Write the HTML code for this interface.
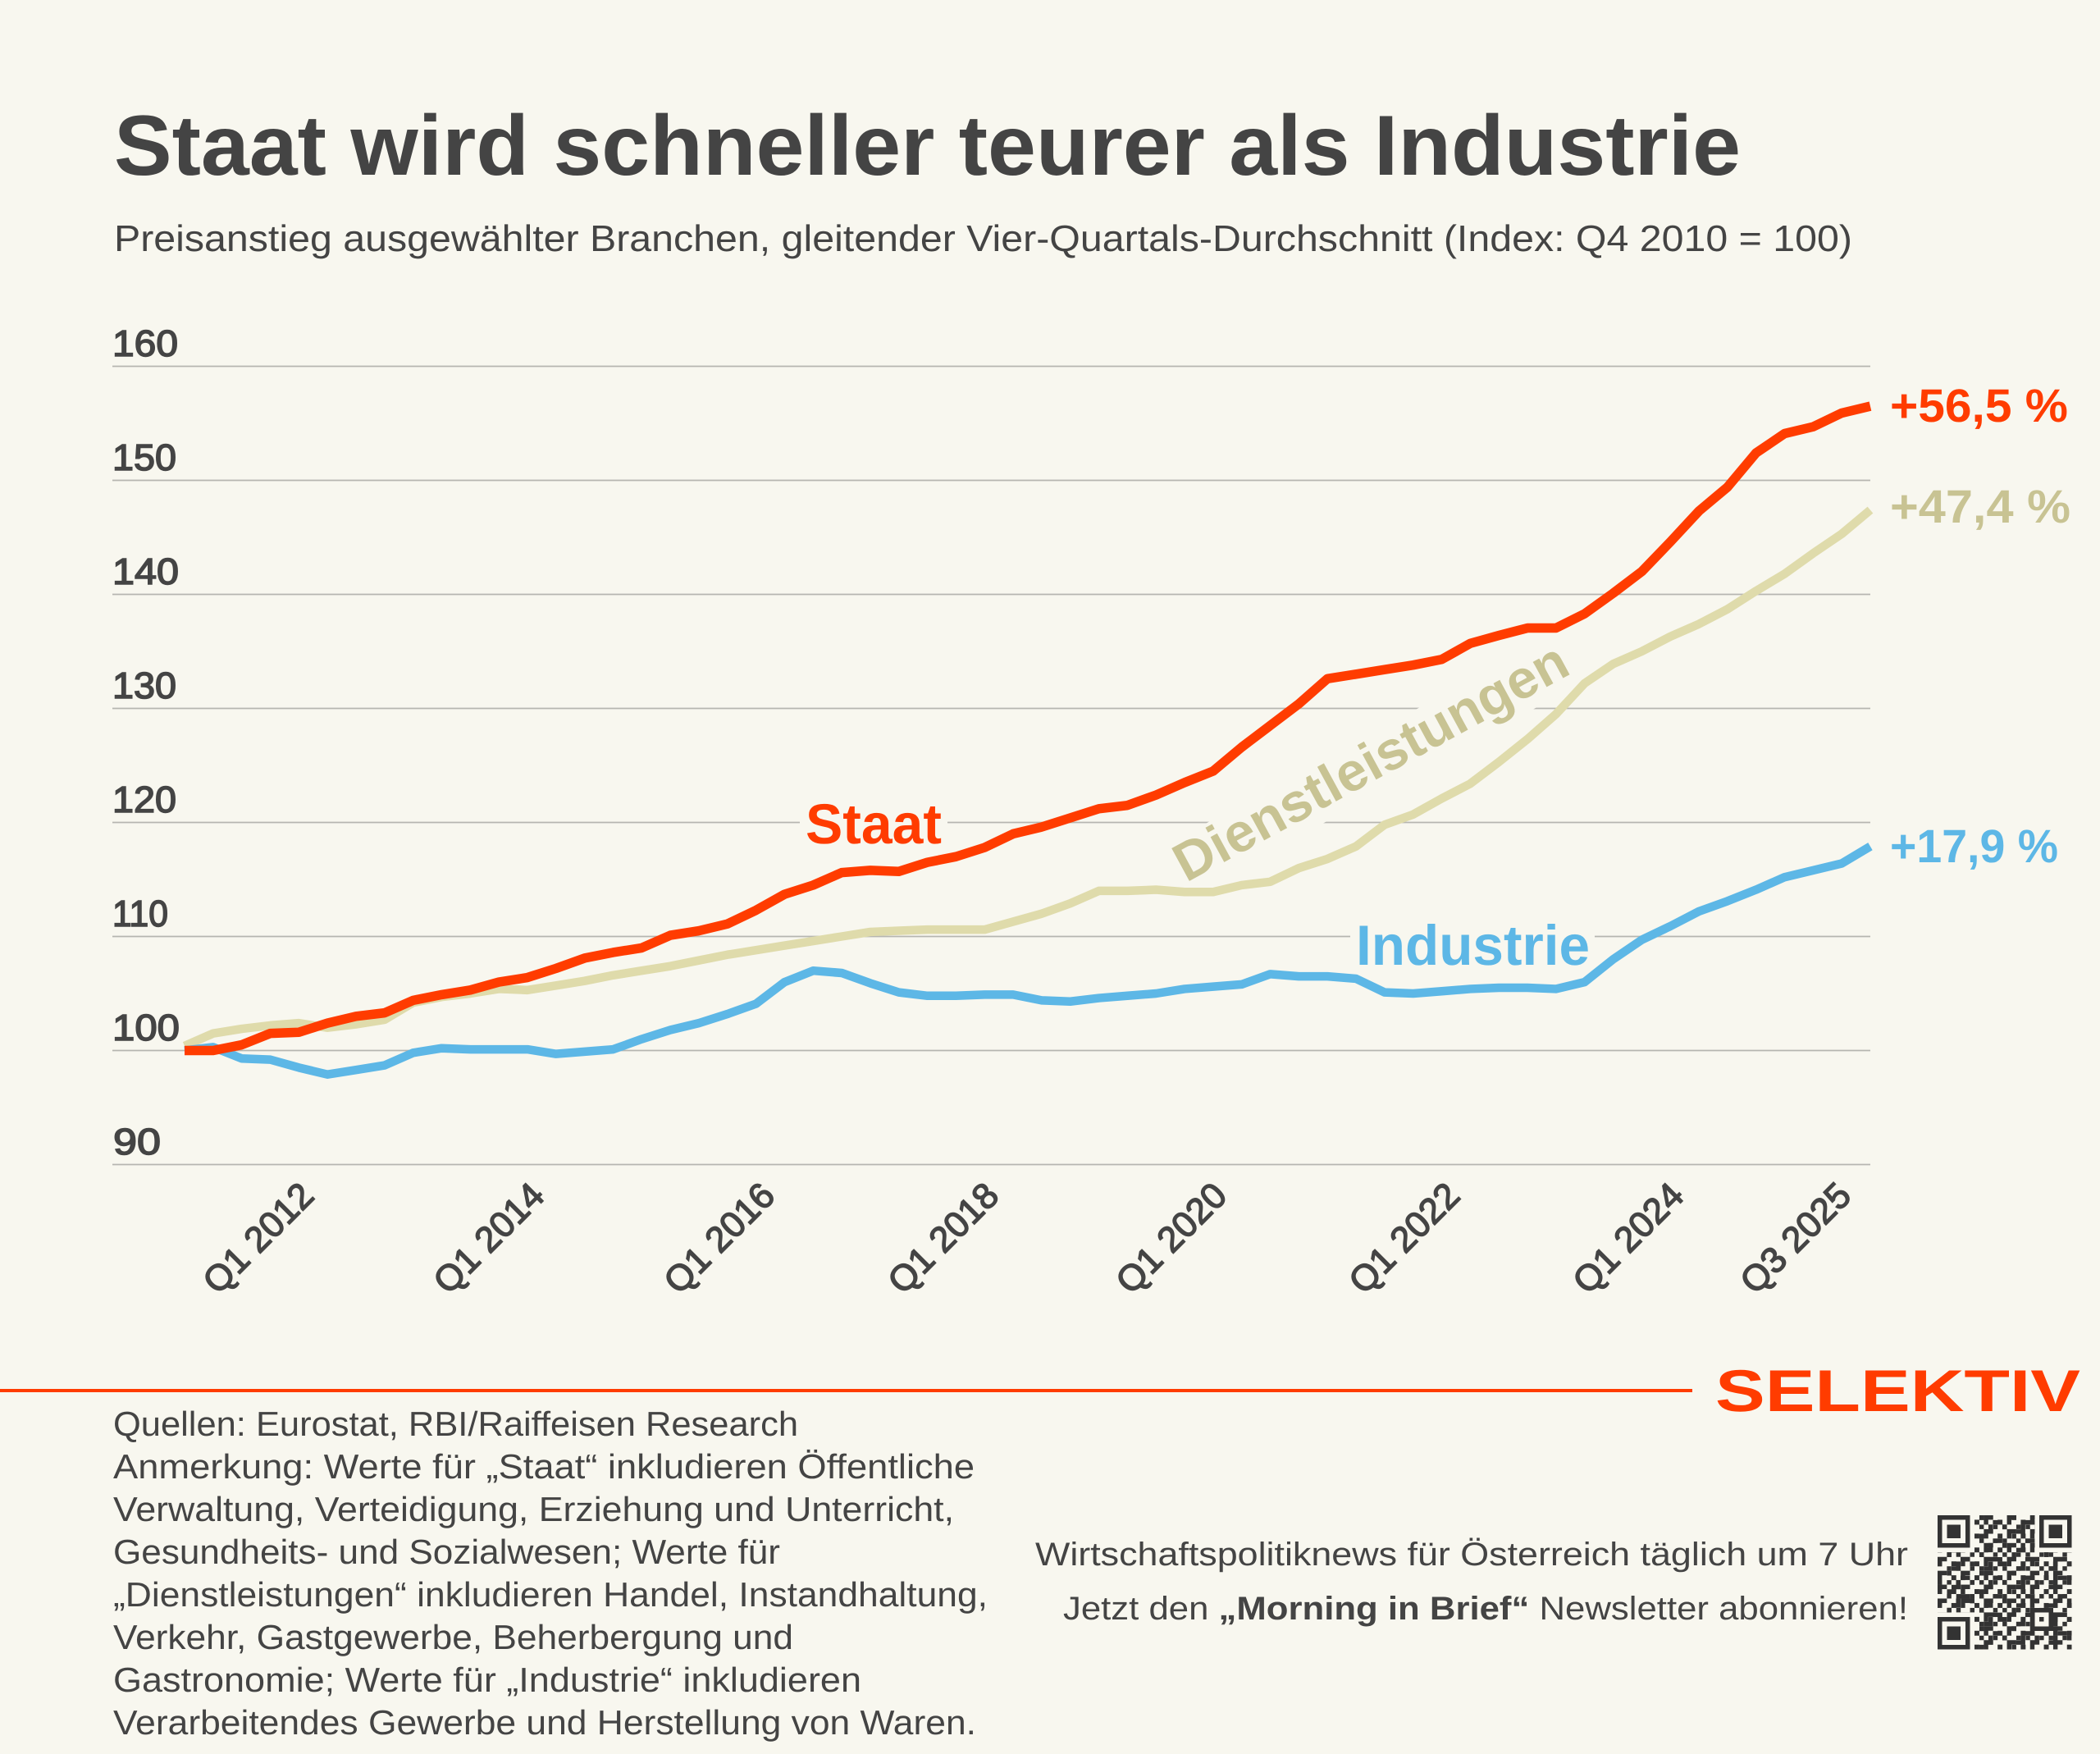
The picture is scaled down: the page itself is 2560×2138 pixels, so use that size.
<!DOCTYPE html>
<html>
<head>
<meta charset="utf-8">
<style>
html,body{margin:0;padding:0;background:#f8f7ef;}
svg{display:block;}
text{text-rendering:geometricPrecision;}
</style>
</head>
<body>
<svg width="2560" height="2138" viewBox="0 0 2560 2138" xmlns="http://www.w3.org/2000/svg" font-family="'Liberation Sans', Arial, sans-serif">
<rect width="2560" height="2138" fill="#f8f7ef"/>

<!-- Title -->
<text x="139" y="213" font-size="104" font-weight="bold" fill="#444444" textLength="1983" lengthAdjust="spacingAndGlyphs">Staat wird schneller teurer als Industrie</text>
<text x="139" y="306" font-size="45" fill="#444444" textLength="2119" lengthAdjust="spacingAndGlyphs">Preisanstieg ausgewählter Branchen, gleitender Vier-Quartals-Durchschnitt (Index: Q4 2010 = 100)</text>

<!-- Gridlines -->
<g stroke="#b6b6b0" stroke-width="1.8">
<line x1="137" y1="446.5" x2="2280" y2="446.5"/>
<line x1="137" y1="585.5" x2="2280" y2="585.5"/>
<line x1="137" y1="724.5" x2="2280" y2="724.5"/>
<line x1="137" y1="863.5" x2="2280" y2="863.5"/>
<line x1="137" y1="1002.5" x2="2280" y2="1002.5"/>
<line x1="137" y1="1141.5" x2="2280" y2="1141.5"/>
<line x1="137" y1="1280.5" x2="2280" y2="1280.5"/>
<line x1="137" y1="1419.5" x2="2280" y2="1419.5"/>
</g>

<!-- Y labels -->
<g font-size="45" fill="#444444" stroke="#444444" stroke-width="1.6">
<text x="137" y="434" textLength="80" lengthAdjust="spacingAndGlyphs">160</text>
<text x="137" y="573" textLength="78" lengthAdjust="spacingAndGlyphs">150</text>
<text x="137" y="712" textLength="81" lengthAdjust="spacingAndGlyphs">140</text>
<text x="137" y="851" textLength="78" lengthAdjust="spacingAndGlyphs">130</text>
<text x="137" y="990" textLength="78" lengthAdjust="spacingAndGlyphs">120</text>
<text x="137" y="1129" textLength="68" lengthAdjust="spacingAndGlyphs">110</text>
<text x="137" y="1268" textLength="82" lengthAdjust="spacingAndGlyphs">100</text>
<text x="138" y="1407" textLength="58" lengthAdjust="spacingAndGlyphs">90</text>
</g>

<!-- Label background halos (cut gridlines) -->
<rect x="975" y="970" width="180" height="68" fill="#f8f7ef"/>
<rect x="1646" y="1118" width="298" height="70" fill="#f8f7ef"/>
<rect transform="translate(1446,1076) rotate(-28.5)" x="-8" y="-52" width="552" height="68" fill="#f8f7ef"/>

<!-- Series -->
<g transform="matrix(34.83 0 0 -13.9 225 2670.5)" fill="none" stroke-linejoin="round" stroke-linecap="butt">
<polyline vector-effect="non-scaling-stroke" stroke="#dfdbab" stroke-width="10.5" points="0,100.4 1,101.5 2,101.9 3,102.2 4,102.4 5,102 6,102.3 7,102.7 8,104.2 9,104.7 10,105 11,105.4 12,105.3 13,105.7 14,106.1 15,106.6 16,107 17,107.4 18,107.9 19,108.4 20,108.8 21,109.2 22,109.6 23,110 24,110.4 25,110.5 26,110.6 27,110.6 28,110.6 29,111.3 30,112 31,112.9 32,114 33,114 34,114.1 35,113.9 36,113.9 37,114.5 38,114.8 39,116 40,116.8 41,117.9 42,119.8 43,120.7 44,122.1 45,123.4 46,125.3 47,127.3 48,129.5 49,132.2 50,133.9 51,135 52,136.3 53,137.4 54,138.7 55,140.3 56,141.8 57,143.6 58,145.3 59,147.4"/>
<polyline vector-effect="non-scaling-stroke" stroke="#5db7e6" stroke-width="10.5" points="0,100 1,100.3 2,99.3 3,99.2 4,98.5 5,97.9 6,98.3 7,98.7 8,99.8 9,100.2 10,100.1 11,100.1 12,100.1 13,99.7 14,99.9 15,100.1 16,101 17,101.8 18,102.4 19,103.2 20,104.1 21,106 22,107 23,106.8 24,105.9 25,105.1 26,104.8 27,104.8 28,104.9 29,104.9 30,104.4 31,104.3 32,104.6 33,104.8 34,105 35,105.4 36,105.6 37,105.8 38,106.7 39,106.5 40,106.5 41,106.3 42,105.1 43,105 44,105.2 45,105.4 46,105.5 47,105.5 48,105.4 49,106 50,108 51,109.7 52,110.9 53,112.2 54,113.1 55,114.1 56,115.2 57,115.8 58,116.4 59,117.9"/>
<polyline vector-effect="non-scaling-stroke" stroke="#ff3c00" stroke-width="11.5" points="0,100 1,100 2,100.5 3,101.5 4,101.6 5,102.4 6,103 7,103.3 8,104.4 9,104.9 10,105.3 11,106 12,106.4 13,107.2 14,108.1 15,108.6 16,109 17,110.1 18,110.5 19,111.1 20,112.3 21,113.7 22,114.5 23,115.6 24,115.8 25,115.7 26,116.5 27,117 28,117.8 29,119 30,119.6 31,120.4 32,121.2 33,121.5 34,122.4 35,123.5 36,124.5 37,126.6 38,128.5 39,130.4 40,132.6 41,133 42,133.4 43,133.8 44,134.3 45,135.7 46,136.4 47,137.05 48,137.05 49,138.3 50,140.1 51,142 52,144.6 53,147.3 54,149.4 55,152.4 56,154.1 57,154.7 58,155.9 59,156.5"/>
</g>

<!-- Series labels -->
<text x="982" y="1028" font-size="69" font-weight="bold" fill="#ff3c00" textLength="166" lengthAdjust="spacingAndGlyphs">Staat</text>
<text x="1653" y="1176" font-size="69" font-weight="bold" fill="#5db7e6" textLength="285" lengthAdjust="spacingAndGlyphs">Industrie</text>
<text transform="translate(1446,1076) rotate(-28.5)" x="0" y="0" font-size="66" font-weight="bold" fill="#c8c393" textLength="536" lengthAdjust="spacingAndGlyphs">Dienstleistungen</text>

<!-- End values -->
<text x="2304" y="514" font-size="57" font-weight="bold" fill="#ff3c00" textLength="217" lengthAdjust="spacingAndGlyphs">+56,5 %</text>
<text x="2304" y="637" font-size="57" font-weight="bold" fill="#c8c393" textLength="220" lengthAdjust="spacingAndGlyphs">+47,4 %</text>
<text x="2304" y="1051" font-size="57" font-weight="bold" fill="#5db7e6" textLength="205" lengthAdjust="spacingAndGlyphs">+17,9 %</text>

<!-- X labels -->
<g font-size="44" fill="#444444" stroke="#444444" stroke-width="1.5" text-anchor="end">
<text transform="translate(385,1460) rotate(-45)">Q1 2012</text>
<text transform="translate(666,1460) rotate(-45)">Q1 2014</text>
<text transform="translate(947,1460) rotate(-45)">Q1 2016</text>
<text transform="translate(1220,1460) rotate(-45)">Q1 2018</text>
<text transform="translate(1498,1460) rotate(-45)">Q1 2020</text>
<text transform="translate(1782,1460) rotate(-45)">Q1 2022</text>
<text transform="translate(2055,1460) rotate(-45)">Q1 2024</text>
<text transform="translate(2259,1460) rotate(-45)">Q3 2025</text>
</g>

<!-- Footer separator + brand -->
<rect x="0" y="1693" width="2063" height="4" fill="#ff3c00"/>
<text x="2091" y="1720" font-size="72" font-weight="bold" fill="#ff3c00" textLength="445" lengthAdjust="spacingAndGlyphs">SELEKTIV</text>

<!-- Footer notes -->
<g font-size="42" fill="#444444">
<text x="138" y="1750" textLength="835" lengthAdjust="spacingAndGlyphs">Quellen: Eurostat, RBI/Raiffeisen Research</text>
<text x="138" y="1802" textLength="1050" lengthAdjust="spacingAndGlyphs">Anmerkung: Werte für „Staat“ inkludieren Öffentliche</text>
<text x="138" y="1854" textLength="1025" lengthAdjust="spacingAndGlyphs">Verwaltung, Verteidigung, Erziehung und Unterricht,</text>
<text x="138" y="1906" textLength="813" lengthAdjust="spacingAndGlyphs">Gesundheits- und Sozialwesen; Werte für</text>
<text x="138" y="1958" textLength="1066" lengthAdjust="spacingAndGlyphs">„Dienstleistungen“ inkludieren Handel, Instandhaltung,</text>
<text x="138" y="2010" textLength="829" lengthAdjust="spacingAndGlyphs">Verkehr, Gastgewerbe, Beherbergung und</text>
<text x="138" y="2062" textLength="912" lengthAdjust="spacingAndGlyphs">Gastronomie; Werte für „Industrie“ inkludieren</text>
<text x="138" y="2114" textLength="1052" lengthAdjust="spacingAndGlyphs">Verarbeitendes Gewerbe und Herstellung von Waren.</text>
</g>

<g font-size="40" fill="#444444">
<text x="1262" y="1908" textLength="1064" lengthAdjust="spacingAndGlyphs">Wirtschaftspolitiknews für Österreich täglich um 7 Uhr</text>
<text x="1296" y="1974" textLength="1030" lengthAdjust="spacingAndGlyphs">Jetzt den <tspan font-weight="bold">„Morning in Brief“</tspan> Newsletter abonnieren!</text>
</g>

<!-- QR code (approximation) -->
<svg x="2362" y="1847" width="163.5" height="163.5" viewBox="0 0 29 29" shape-rendering="crispEdges">
<defs>
<pattern id="qa" width="5" height="3" patternUnits="userSpaceOnUse">
<rect x="0" y="0" width="2" height="1" fill="#333"/>
<rect x="3" y="1" width="1" height="1" fill="#333"/>
<rect x="0" y="1" width="1" height="1" fill="#333"/>
<rect x="2" y="2" width="1" height="1" fill="#333"/>
<rect x="4" y="2" width="1" height="1" fill="#333"/>
</pattern>
<pattern id="qb" width="7" height="4" patternUnits="userSpaceOnUse">
<rect x="2" y="0" width="1" height="1" fill="#333"/>
<rect x="5" y="1" width="2" height="1" fill="#333"/>
<rect x="0" y="2" width="1" height="1" fill="#333"/>
<rect x="3" y="3" width="2" height="1" fill="#333"/>
<rect x="4" y="2" width="1" height="1" fill="#333"/>
</pattern>
</defs>
<rect width="29" height="29" fill="#f8f7ef"/>
<rect width="29" height="29" fill="url(#qa)"/>
<rect width="29" height="29" fill="url(#qb)"/>
<rect x="0" y="0" width="8" height="8" fill="#f8f7ef"/>
<rect x="21" y="0" width="8" height="8" fill="#f8f7ef"/>
<rect x="0" y="21" width="8" height="8" fill="#f8f7ef"/>
<g fill="#333">
<path d="M0 0h7v7h-7z M1 1v5h5v-5z" fill-rule="evenodd"/>
<rect x="2" y="2" width="3" height="3"/>
<path d="M22 0h7v7h-7z M23 1v5h5v-5z" fill-rule="evenodd"/>
<rect x="24" y="2" width="3" height="3"/>
<path d="M0 22h7v7h-7z M1 23v5h5v-5z" fill-rule="evenodd"/>
<rect x="2" y="24" width="3" height="3"/>
</g>
<rect x="20" y="20" width="5" height="5" fill="#333"/>
<rect x="21" y="21" width="3" height="3" fill="#f8f7ef"/>
<rect x="22" y="22" width="1" height="1" fill="#333"/>
</svg>

</svg>
</body>
</html>
